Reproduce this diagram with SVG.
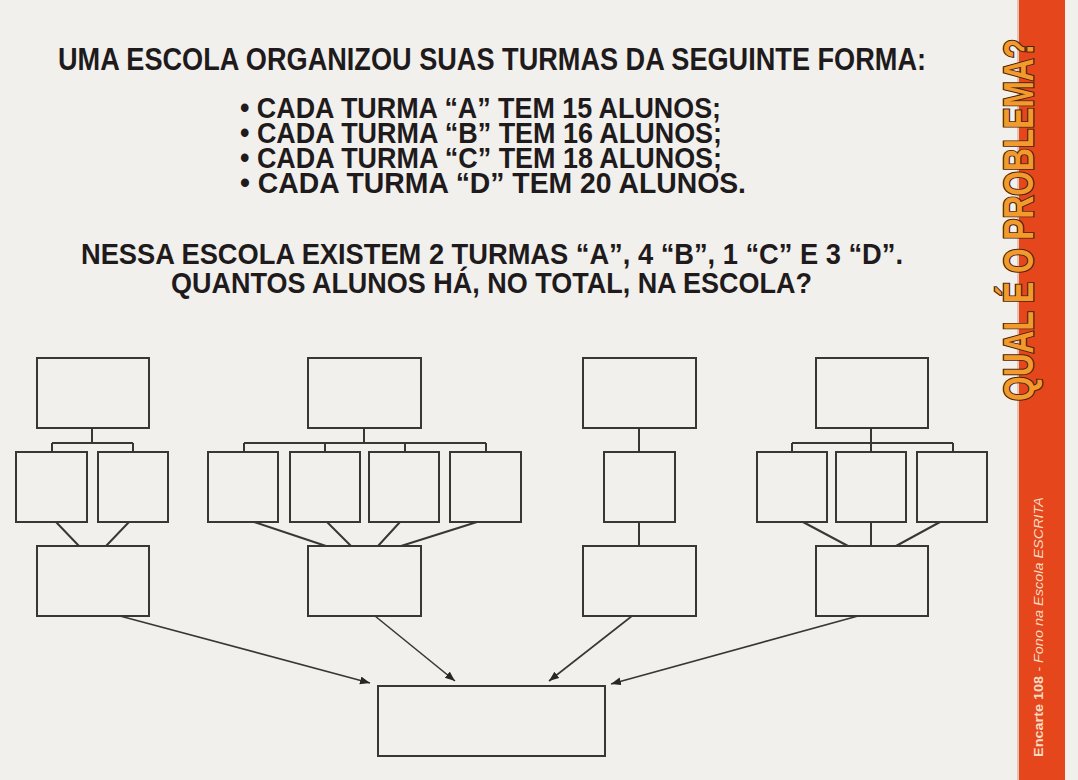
<svg xmlns="http://www.w3.org/2000/svg" width="1078" height="780" viewBox="0 0 1078 780">
<defs>
<marker id="ah" markerUnits="userSpaceOnUse" markerWidth="12" markerHeight="10" refX="10" refY="4" orient="auto">
<path d="M0,0 L10,4 L0,8 Z" fill="#2a2626"/>
</marker>
</defs>
<style>
.bx{fill:none;stroke:#3a3636;stroke-width:2}
.cn{fill:none;stroke:#3a3636;stroke-width:2}
.ar{fill:none;stroke:#3a3636;stroke-width:1.6;marker-end:url(#ah)}
.t{font-family:"Liberation Sans Narrow","Liberation Sans",Arial,sans-serif;font-weight:bold;fill:#1f1b1c}
.side{font-family:"Liberation Sans Narrow","Liberation Sans",Arial,sans-serif;font-weight:bold;font-size:42px;fill:#f39a2c;stroke:#4a2412;stroke-width:2.5;paint-order:stroke}
.enc{font-family:"Liberation Sans",Arial,sans-serif;font-size:12px;fill:#f8dcc2}
</style>
<rect x="0" y="0" width="1078" height="780" fill="#f2f0ed"/>
<rect x="1019" y="0" width="46" height="780" fill="#e6461b"/>
<rect x="1017" y="0" width="2" height="780" fill="#c9a07a" opacity="0.5"/>

<g id="texts">
<text class="t" x="58" y="70" font-size="32" textLength="868" lengthAdjust="spacingAndGlyphs">UMA ESCOLA ORGANIZOU SUAS TURMAS DA SEGUINTE FORMA:</text>
<text class="t" x="240" y="118" font-size="29" textLength="481" lengthAdjust="spacingAndGlyphs">• CADA TURMA “A” TEM 15 ALUNOS;</text>
<text class="t" x="240" y="143" font-size="29" textLength="482" lengthAdjust="spacingAndGlyphs">• CADA TURMA “B” TEM 16 ALUNOS;</text>
<text class="t" x="240" y="168" font-size="29" textLength="482" lengthAdjust="spacingAndGlyphs">• CADA TURMA “C” TEM 18 ALUNOS;</text>
<text class="t" x="240" y="193" font-size="29" textLength="506" lengthAdjust="spacingAndGlyphs">• CADA TURMA “D” TEM 20 ALUNOS.</text>
<text class="t" x="81" y="264" font-size="30" textLength="822" lengthAdjust="spacingAndGlyphs">NESSA ESCOLA EXISTEM 2 TURMAS “A”, 4 “B”, 1 “C” E 3 “D”.</text>
<text class="t" x="171" y="293" font-size="30" textLength="641" lengthAdjust="spacingAndGlyphs">QUANTOS ALUNOS HÁ, NO TOTAL, NA ESCOLA?</text>
<text class="side" transform="translate(1033,220) rotate(-90)" text-anchor="middle" textLength="362" lengthAdjust="spacingAndGlyphs">QUAL É O PROBLEMA?</text>
<text class="enc" transform="translate(1043,757) rotate(-90)" textLength="260" lengthAdjust="spacingAndGlyphs"><tspan font-weight="bold">Encarte 108</tspan><tspan font-style="italic"> - Fono na Escola ESCRITA</tspan></text>
</g>

<g id="connectors">
<path class="cn" d="M92 428V443M52 443H133M52 443V452M133 443V452M56 522L79 546M129 522L106 546"/>
<path class="cn" d="M364 428V443M244 443H486M244 443V452M325 443V452M405 443V452M486 443V452M254 522L326 546M327 522L351 546M400 522L378 546M477 522L401 546"/>
<path class="cn" d="M639 428V452M639 522V546"/>
<path class="cn" d="M871 428V452M792 443H953M792 443V452M953 443V452M803 522L848 546M871 522V546M940 522L896 546"/>
<line class="ar" x1="120" y1="616" x2="370" y2="683"/>
<line class="ar" x1="375" y1="616" x2="455" y2="681"/>
<line class="ar" x1="632" y1="616" x2="549" y2="681"/>
<line class="ar" x1="858" y1="616" x2="611" y2="684"/>
</g>

<g id="groupA">
<rect class="bx" x="37" y="358" width="112" height="70"/>
<rect class="bx" x="16" y="452" width="71" height="70"/>
<rect class="bx" x="98" y="452" width="70" height="70"/>
<rect class="bx" x="37" y="546" width="112" height="70"/>
</g>
<g id="groupB">
<rect class="bx" x="308" y="358" width="113" height="70"/>
<rect class="bx" x="208" y="452" width="70" height="70"/>
<rect class="bx" x="290" y="452" width="70" height="70"/>
<rect class="bx" x="369" y="452" width="70" height="70"/>
<rect class="bx" x="450" y="452" width="71" height="70"/>
<rect class="bx" x="308" y="546" width="113" height="70"/>
</g>
<g id="groupC">
<rect class="bx" x="583" y="358" width="113" height="70"/>
<rect class="bx" x="604" y="452" width="71" height="70"/>
<rect class="bx" x="583" y="546" width="113" height="70"/>
</g>
<g id="groupD">
<rect class="bx" x="816" y="358" width="112" height="70"/>
<rect class="bx" x="757" y="452" width="70" height="70"/>
<rect class="bx" x="836" y="452" width="70" height="70"/>
<rect class="bx" x="917" y="452" width="70" height="70"/>
<rect class="bx" x="816" y="546" width="112" height="70"/>
</g>
<g id="total">
<rect class="bx" x="378" y="686" width="227" height="70"/>
</g>
</svg>
